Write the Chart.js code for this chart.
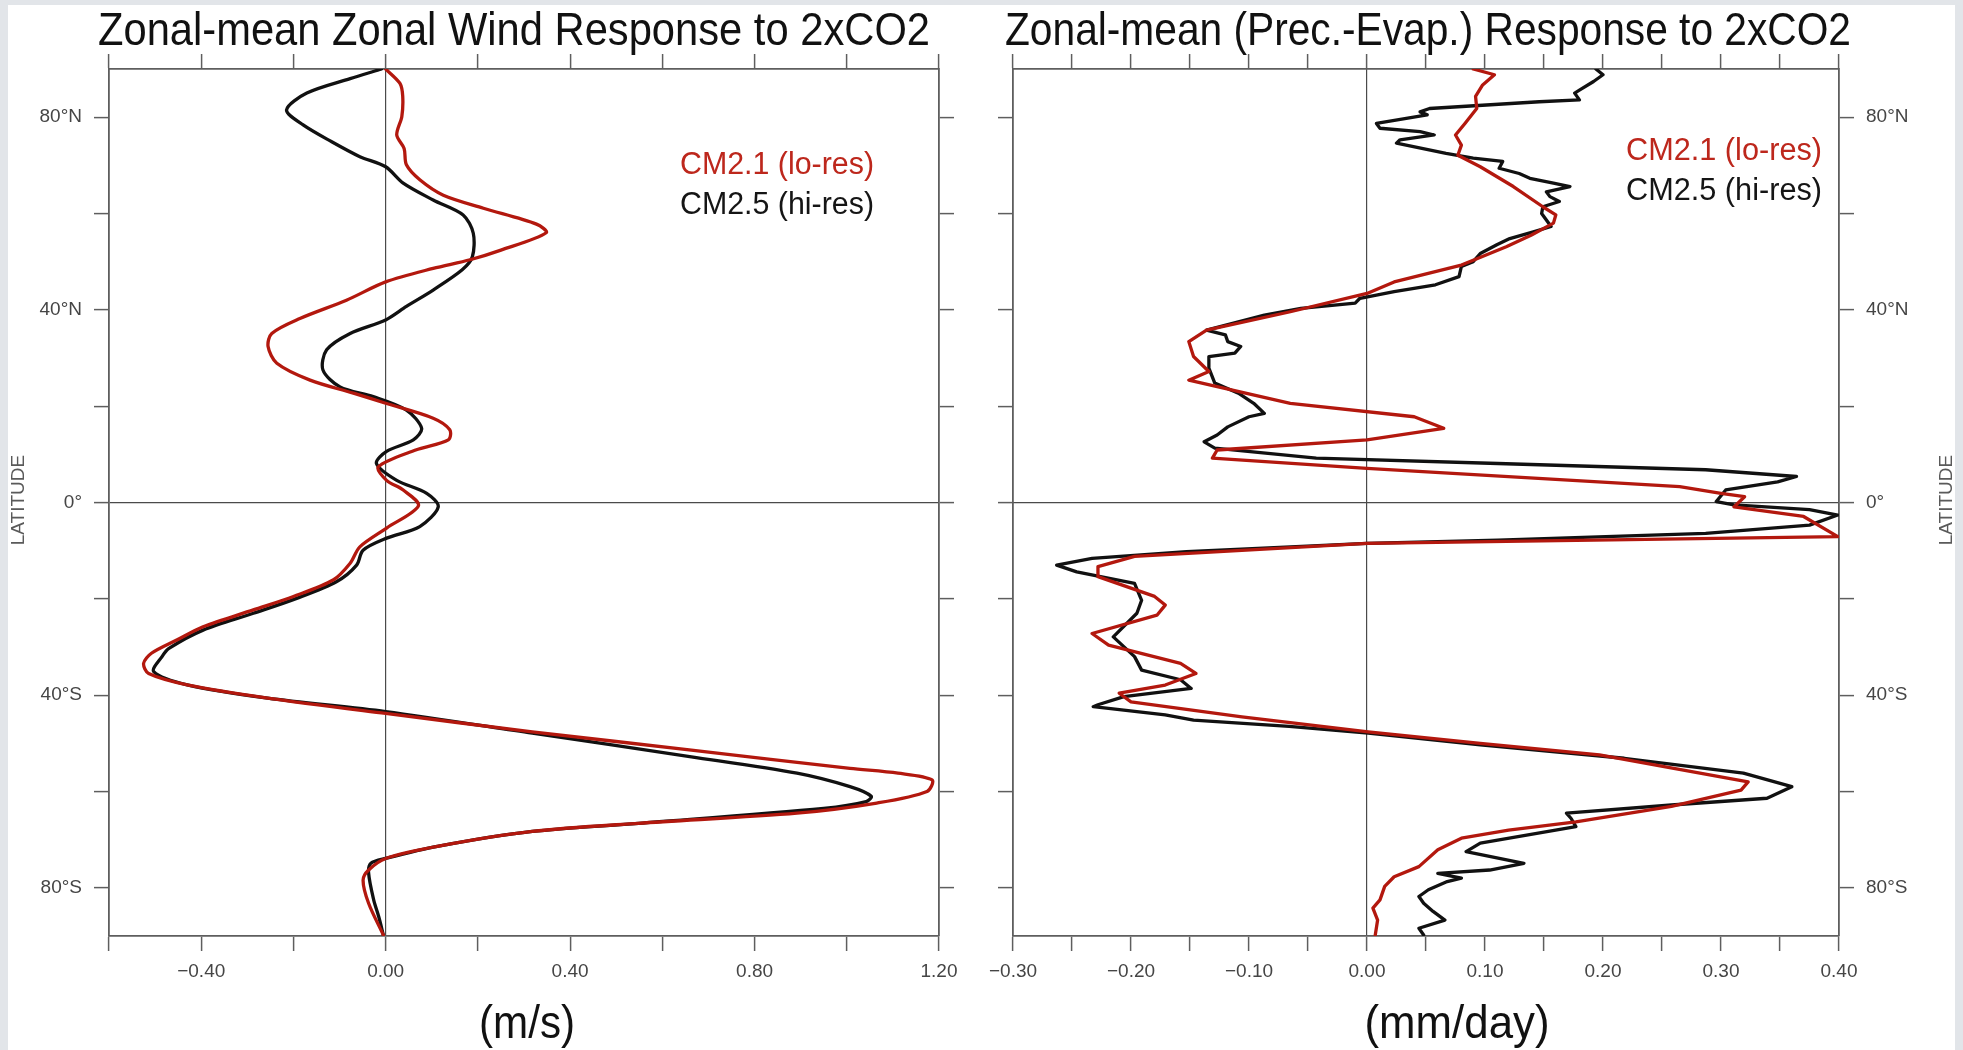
<!DOCTYPE html>
<html>
<head>
<meta charset="utf-8">
<script src="https://cdn.jsdelivr.net/npm/chart.js@4.4.1/dist/chart.umd.min.js"></script>
<style>
  html, body { margin: 0; padding: 0; background: #e2e5e9; }
  body { width: 1963px; height: 1050px; position: relative; overflow: hidden; }
  #sheet { position: absolute; left: 8px; top: 5px; width: 1947px; height: 1045px; background: #fff; }
  .panel { position: absolute; top: 0; }
  #windBox { left: 0; }
  #peBox { left: 975px; }
</style>
</head>
<body>
<div id="sheet"></div>
<div class="panel" id="windBox"><canvas id="windChart" width="975" height="1050"></canvas></div>
<div class="panel" id="peBox"><canvas id="peChart" width="988" height="1050"></canvas></div>
<script>
// --- data ---
const latTicks = [-80, -60, -40, -20, 0, 20, 40, 60, 80];
const latTickLabels = { "80": "80°N", "40": "40°N", "0": "0°", "-40": "40°S", "-80": "80°S" };

const windTicks = [-0.6, -0.4, -0.2, 0, 0.2, 0.4, 0.6, 0.8, 1.0, 1.2];
const windTickLabels = [-0.4, 0, 0.4, 0.8, 1.2];
const peTicks = [-0.3, -0.25, -0.2, -0.15, -0.1, -0.05, 0, 0.05, 0.1, 0.15, 0.2, 0.25, 0.3, 0.35, 0.4];
const peTickLabels = [-0.3, -0.2, -0.1, 0, 0.1, 0.2, 0.3, 0.4];

const seriesNames = ["CM2.1 (lo-res)", "CM2.5 (hi-res)"];

// zonal wind, CM2.1
const windLatLo = [90, 87, 84.3, 80.1, 76.3, 73.5, 70.1, 67, 63.8, 61.1, 57.8, 56, 52.4, 50.4, 48.6, 45.8, 42, 38.2, 35.1, 32.4,
  28.9, 25.4, 22.7, 20.6, 17.5, 15.1, 13, 10.9, 7.4, 4.6, 2.6, -0.7, -5.3, -9.2, -12.6, -16.1, -19.5, -22.3, -25.8, -28.5,
  -31.3, -33.4, -35.5, -37.9, -40.6, -43.8, -47.6, -51.4, -55.2, -56.2, -57.6, -60, -62.4, -64.5, -66.6, -68.3, -71.4, -73.9,
  -76.3, -78.4, -83.2, -89.8];
const windLo = [0, 0.031, 0.037, 0.035, 0.024, 0.04, 0.045, 0.074, 0.125, 0.212, 0.327, 0.348, 0.25, 0.183, 0.103, 0, -0.085, -0.186, -0.247, -0.255,
  -0.236, -0.164, -0.07, 0, 0.103, 0.139, 0.136, 0.065, -0.016, 0.002, 0.038, 0.071, 0.002, -0.056, -0.077, -0.114, -0.2, -0.287, -0.396, -0.452,
  -0.508, -0.525, -0.514, -0.428, -0.256, 0, 0.318, 0.663, 1.007, 1.111, 1.185, 1.174, 1.065, 0.892, 0.548, 0.318, 0.112, 0,
  -0.037, -0.049, -0.037, -0.005];

// zonal wind, CM2.5
const windLatHi = [90, 88, 85, 81.5, 78.4, 74.9, 71.8, 69.7, 66.3, 62.8, 59.7, 55.9, 51, 48.3, 44.1, 40.7, 37.9, 35.1, 31.7, 27.5,
  24, 22, 19.2, 15.4, 13, 10.6, 8.1, 4.6, 1.9, -0.9, -5, -7.4, -9.9, -13, -16.4, -19.9, -23, -26.5, -30.3, -32,
  -35.1, -37.9, -40.6, -43.4, -47.9, -52.8, -56.2, -59, -61, -62.1, -63.5, -66.6, -68.3, -71.4, -73.9, -74.9, -76.9, -82.5,
  -86, -89.8];
const windHi = [-0.009, -0.077, -0.171, -0.215, -0.179, -0.117, -0.056, 0, 0.038, 0.103, 0.168, 0.19, 0.188, 0.166, 0.103, 0.045, 0, -0.077, -0.128, -0.136,
  -0.099, -0.027, 0.045, 0.078, 0.06, 0.002, -0.02, 0.024, 0.089, 0.114, 0.074, 0.002, -0.049, -0.063, -0.106, -0.193, -0.287, -0.396, -0.47, -0.485,
  -0.503, -0.428, -0.256, 0, 0.318, 0.663, 0.892, 1.007, 1.053, 1.042, 0.95, 0.548, 0.318, 0.112, 0, -0.032, -0.037, -0.026,
  -0.015, -0.005];

// precipitation minus evaporation, CM2.1
const peLatLo = [90, 88.8, 86.7, 84.3, 81.8, 78.7, 76.3, 74.2, 72.1, 69.7, 65.6, 61.4, 59.7, 58, 55.5, 53.1, 50.3, 49.3, 45.8, 43.4,
  39.6, 35.8, 33.4, 30.3, 27.2, 25.4, 20.6, 17.8, 15.4, 13, 10.9, 9.2, 7.1, 3.3, 1.9, 1.2, -0.9, -2.9, -7.1, -8.5,
  -11.2, -13.3, -15.4, -19.5, -21.3, -23.4, -27.2, -29.6, -33.4, -35.5, -37.9, -39.6, -41.4, -44.5, -47.6, -50, -52.4, -58, -59.7, -63.1,
  -66.3, -68, -69.7, -72.1, -75.6, -77.7, -79.7, -82.5, -84.2, -86.7, -89.8];
const peLo = [0.09, 0.108, 0.098, 0.092, 0.093, 0.083, 0.075, 0.08, 0.077, 0.096, 0.124, 0.149, 0.16, 0.158, 0.139, 0.118, 0.09, 0.08, 0.023, 0,
  -0.065, -0.136, -0.151, -0.147, -0.134, -0.151, -0.065, 0.04, 0.065, 0, -0.127, -0.131, 0, 0.265, 0.3, 0.32, 0.311, 0.37, 0.399, 0,
  -0.197, -0.228, -0.228, -0.18, -0.171, -0.178, -0.233, -0.219, -0.158, -0.145, -0.171, -0.21, -0.2, -0.106, 0.001, 0.096, 0.197, 0.323, 0.317, 0.258,
  0.177, 0.12, 0.08, 0.06, 0.044, 0.023, 0.015, 0.011, 0.005, 0.009, 0.007];

// precipitation minus evaporation, CM2.5
const peLatHi = [90, 88.8, 87.4, 85.6, 85, 83.6, 83.2, 81.8, 81.1, 80.5, 78.7, 77.7, 77, 76.3, 75.3, 74.6, 72.5, 71.5, 70.8, 69.4,
  68.3, 67.3, 66.3, 65.6, 64.5, 63.5, 62.5, 61.4, 60, 57.3, 56.2, 54.8, 53.5, 51.7, 50, 49, 46.9, 45.2, 43.8, 42.4,
  41.4, 40.3, 38.9, 37.5, 35.8, 34.8, 33.4, 32.4, 31, 30.3, 27.9, 24.8, 22.7, 20.6, 18.5, 17.8, 15.7, 14, 12.6, 11.3,
  9.2, 8.1, 6.8, 5.4, 4.3, 2.6, 0.2, -0.5, -1.5, -2.6, -4.7, -6.4, -7.8, -8.5, -10.2, -11.6, -13, -14.4, -16.8, -20.3,
  -23, -27.9, -32, -34.8, -36.8, -38.6, -40.3, -42, -42.4, -44.1, -45.2, -46.5, -47.9, -50.3, -53.1, -56.2, -59, -61.4, -62.8, -64.5,
  -65.6, -67.3, -70.7, -72.5, -74.9, -76.3, -77, -78, -78.7, -80.4, -81.8, -83.2, -84.9, -86.7, -88.4, -89.8];
const peHi = [0.194, 0.2, 0.192, 0.18, 0.176, 0.18, 0.146, 0.053, 0.045, 0.051, 0.008, 0.011, 0.045, 0.057, 0.028, 0.025, 0.067, 0.09, 0.115, 0.112,
  0.129, 0.138, 0.158, 0.172, 0.152, 0.155, 0.163, 0.149, 0.148, 0.156, 0.141, 0.121, 0.11, 0.096, 0.09, 0.08, 0.078, 0.058, 0.023, -0.006,
  -0.01, -0.056, -0.087, -0.109, -0.136, -0.12, -0.118, -0.107, -0.112, -0.134, -0.134, -0.129, -0.109, -0.096, -0.087, -0.1, -0.118, -0.127, -0.138, -0.129,
  -0.043, 0.111, 0.287, 0.364, 0.348, 0.304, 0.296, 0.311, 0.375, 0.399, 0.375, 0.287, 0.111, 0, -0.153, -0.233, -0.263, -0.246, -0.197, -0.191,
  -0.195, -0.215, -0.197, -0.191, -0.158, -0.149, -0.206, -0.228, -0.232, -0.171, -0.147, -0.066, 0.001, 0.096, 0.218, 0.319, 0.36, 0.339, 0.258, 0.169,
  0.173, 0.177, 0.096, 0.084, 0.133, 0.104, 0.06, 0.08, 0.068, 0.052, 0.044, 0.048, 0.056, 0.066, 0.044, 0.048];

// --- styling ---
const RED = "#b3180e";
const RED_TEXT = "#bd271c";
const BLACK = "#111111";
const FRAME = "#5e5e5e";
const ZERO = "#4a4a4a";
const TICK_TEXT = "#454545";
const SANS = "'Liberation Sans', Arial, sans-serif";

function pts(lats, vals) {
  return lats.map((lat, i) => ({ x: vals[i], y: lat }));
}

function fmt(v) {
  const s = Math.abs(v).toFixed(2);
  return v < -1e-9 ? "\u2212" + s : s;
}

function hasTick(list, v) {
  return list.some(t => Math.abs(t - v) < 1e-6);
}

// squeezed text, so the lettering keeps the narrow look of the figure
function squeezed(ctx, text, x, y, width) {
  const w = ctx.measureText(text).width;
  ctx.save();
  ctx.translate(x, y);
  ctx.scale(width / w, 1);
  ctx.fillText(text, 0, 0);
  ctx.restore();
}

// draws the title, legend, unit and LATITUDE text
const decorPlugin = {
  id: "decor",
  afterDraw(chart, args, o) {
    const ctx = chart.ctx;
    ctx.save();
    ctx.fillStyle = "#111";
    ctx.textBaseline = "alphabetic";
    ctx.textAlign = "center";
    ctx.font = o.titleSize + "px " + SANS;
    squeezed(ctx, o.title, o.titleX, o.titleY, o.titleWidth);

    ctx.font = o.unitSize + "px " + SANS;
    squeezed(ctx, o.unit, o.unitX, o.unitY, o.unitWidth);

    // legend as coloured text
    ctx.font = o.legendSize + "px " + SANS;
    ctx.textAlign = "left";
    ctx.textBaseline = "middle";
    chart.data.datasets.forEach((ds, i) => {
      ctx.fillStyle = ds.legendColor;
      squeezed(ctx, ds.label, o.legendX, o.legendY + i * o.legendGap, o.legendWidth);
    });

    // LATITUDE
    ctx.font = "19px " + SANS;
    ctx.fillStyle = "#5a5a5a";
    ctx.textAlign = "center";
    ctx.textBaseline = "middle";
    ctx.save();
    ctx.translate(o.latX, o.latY);
    ctx.rotate(-Math.PI / 2);
    ctx.fillText("LATITUDE", 0, 0);
    ctx.restore();
    ctx.restore();
  }
};

function axisX(pos, ticks, labels, min, max, size, withLabels) {
  return {
    type: "linear", position: pos, min: min, max: max,
    afterBuildTicks: s => { s.ticks = ticks.map(v => ({ value: v })); },
    afterFit: s => { s.height = size; },
    ticks: {
      display: withLabels, autoSkip: false, maxRotation: 0, padding: 9,
      color: TICK_TEXT, font: { family: SANS, size: 19 },
      callback: v => hasTick(labels, v) ? fmt(v) : ""
    },
    grid: {
      drawOnChartArea: withLabels,
      color: c => (withLabels && c.tick && Math.abs(c.tick.value) < 1e-9) ? ZERO : "rgba(0,0,0,0)",
      tickColor: FRAME, tickLength: 15, lineWidth: 1.2, tickWidth: 1.5
    },
    border: { display: true, color: FRAME, width: 1.8 }
  };
}

function axisY(pos, size, withLabels) {
  return {
    type: "linear", position: pos, min: -90, max: 90,
    afterBuildTicks: s => { s.ticks = latTicks.map(v => ({ value: v })); },
    afterFit: s => { s.width = size; },
    ticks: {
      display: withLabels, autoSkip: false, padding: 12,
      color: TICK_TEXT, font: { family: SANS, size: 19 },
      callback: v => latTickLabels[String(v)] || ""
    },
    grid: {
      drawOnChartArea: withLabels,
      color: c => (withLabels && c.tick && Math.abs(c.tick.value) < 1e-9) ? ZERO : "rgba(0,0,0,0)",
      tickColor: FRAME, tickLength: 15, lineWidth: 1.2, tickWidth: 1.5
    },
    border: { display: true, color: FRAME, width: 1.8 }
  };
}

function makeDatasets(latLo, lo, latHi, hi, tension) {
  return [
    { label: seriesNames[0], data: pts(latLo, lo), borderColor: RED, legendColor: RED_TEXT },
    { label: seriesNames[1], data: pts(latHi, hi), borderColor: BLACK, legendColor: "#151515" }
  ].map(d => Object.assign(d, { showLine: true, pointRadius: 0, fill: false, borderWidth: 3.3,
    tension: tension, borderJoinStyle: "round", borderCapStyle: "round" }));
}

const common = {
  responsive: false,
  animation: false,
  layout: { padding: 0 },
  plugins: { legend: { display: false }, tooltip: { enabled: false } }
};

new Chart(document.getElementById("windChart"), {
  type: "scatter",
  data: { datasets: makeDatasets(windLatLo, windLo, windLatHi, windHi, 0.3) },
  options: Object.assign({}, common, {
    scales: {
      x: axisX("bottom", windTicks, windTickLabels, -0.6, 1.2, 114, true),
      x2: axisX("top", windTicks, windTickLabels, -0.6, 1.2, 69, false),
      y: axisY("left", 109, true),
      y2: axisY("right", 36, false)
    },
    plugins: Object.assign({}, common.plugins, {
      decor: {
        title: "Zonal-mean Zonal Wind Response to 2xCO2", titleSize: 47, titleWidth: 832, titleX: 514, titleY: 45,
        unit: "(m/s)", unitSize: 46, unitWidth: 96, unitX: 527, unitY: 1038,
        legendSize: 31, legendWidth: 194, legendX: 680, legendY: 165, legendGap: 40,
        latX: 19, latY: 500
      }
    })
  }),
  plugins: [decorPlugin]
});

new Chart(document.getElementById("peChart"), {
  type: "scatter",
  data: { datasets: makeDatasets(peLatLo, peLo, peLatHi, peHi, 0) },
  options: Object.assign({}, common, {
    scales: {
      x: axisX("bottom", peTicks, peTickLabels, -0.3, 0.4, 114, true),
      x2: axisX("top", peTicks, peTickLabels, -0.3, 0.4, 69, false),
      y: axisY("right", 124, true),
      y2: axisY("left", 38, false)
    },
    plugins: Object.assign({}, common.plugins, {
      decor: {
        title: "Zonal-mean (Prec.-Evap.) Response to 2xCO2", titleSize: 47, titleWidth: 846, titleX: 453, titleY: 45,
        unit: "(mm/day)", unitSize: 46, unitWidth: 185, unitX: 482, unitY: 1038,
        legendSize: 31, legendWidth: 196, legendX: 651, legendY: 151, legendGap: 40,
        latX: 972, latY: 500
      }
    })
  }),
  plugins: [decorPlugin]
});
</script>
</body>
</html>
